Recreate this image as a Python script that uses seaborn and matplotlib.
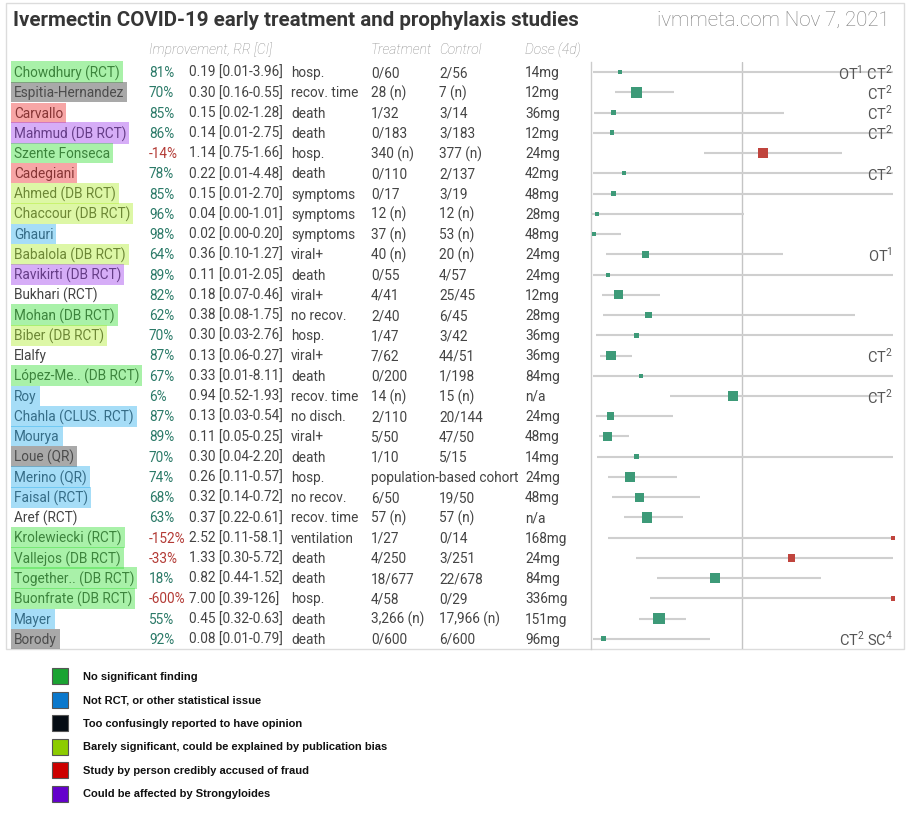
import numpy as np
import pandas as pd
import matplotlib
matplotlib.use('Agg')
import matplotlib.pyplot as plt
import matplotlib.transforms as mtransforms
from matplotlib.patches import Rectangle
import seaborn as sns

# dados
estudos = ['Chowdhury (RCT)', 'Espitia-Hernandez', 'Carvallo', 'Mahmud (DB RCT)', 'Szente Fonseca',
           'Cadegiani', 'Ahmed (DB RCT)', 'Chaccour (DB RCT)', 'Ghauri', 'Babalola (DB RCT)',
           'Ravikirti (DB RCT)', 'Bukhari (RCT)', 'Mohan (DB RCT)', 'Biber (DB RCT)', 'Elalfy',
           'López-Me.. (DB RCT)', 'Roy', 'Chahla (CLUS. RCT)', 'Mourya', 'Loue (QR)',
           'Merino (QR)', 'Faisal (RCT)', 'Aref (RCT)', 'Krolewiecki (RCT)', 'Vallejos (DB RCT)',
           'Together.. (DB RCT)', 'Buonfrate (DB RCT)', 'Mayer', 'Borody']
rr = [0.19, 0.30, 0.15, 0.14, 1.14, 0.22, 0.15, 0.04, 0.02, 0.36, 0.11, 0.18, 0.38, 0.30, 0.13,
      0.33, 0.94, 0.13, 0.11, 0.30, 0.26, 0.32, 0.37, 2.52, 1.33, 0.82, 7.00, 0.45, 0.08]
ci_low = [0.01, 0.16, 0.02, 0.01, 0.75, 0.01, 0.01, 0.00, 0.00, 0.10, 0.01, 0.07, 0.08, 0.03, 0.06,
          0.01, 0.52, 0.03, 0.05, 0.04, 0.11, 0.14, 0.22, 0.11, 0.30, 0.44, 0.39, 0.32, 0.01]
ci_high = [3.96, 0.55, 1.28, 2.75, 1.66, 4.48, 2.70, 1.01, 0.20, 1.27, 2.05, 0.46, 1.75, 2.76, 0.27,
           8.11, 1.93, 0.54, 0.25, 2.20, 0.57, 0.72, 0.61, 58.1, 5.72, 1.52, 126, 0.63, 0.79]
desfecho = ['hosp.', 'recov. time', 'death', 'death', 'hosp.', 'death', 'symptoms', 'symptoms',
            'symptoms', 'viral+', 'death', 'viral+', 'no recov.', 'hosp.', 'viral+', 'death',
            'recov. time', 'no disch.', 'viral+', 'death', 'hosp.', 'no recov.', 'recov. time',
            'ventilation', 'death', 'death', 'hosp.', 'death', 'death']
tratamento = ['0/60', '28 (n)', '1/32', '0/183', '340 (n)', '0/110', '0/17', '12 (n)', '37 (n)',
              '40 (n)', '0/55', '4/41', '2/40', '1/47', '7/62', '0/200', '14 (n)', '2/110', '5/50',
              '1/10', 'population-based cohort', '6/50', '57 (n)', '1/27', '4/250', '18/677', '4/58',
              '3,266 (n)', '0/600']
controle = ['2/56', '7 (n)', '3/14', '3/183', '377 (n)', '2/137', '3/19', '12 (n)', '53 (n)',
            '20 (n)', '4/57', '25/45', '6/45', '3/42', '44/51', '1/198', '15 (n)', '20/144', '47/50',
            '5/15', '', '19/50', '57 (n)', '0/14', '3/251', '22/678', '0/29', '17,966 (n)', '6/600']
dose = ['14mg', '12mg', '36mg', '12mg', '24mg', '42mg', '48mg', '28mg', '48mg', '24mg', '24mg',
        '12mg', '28mg', '36mg', '36mg', '84mg', 'n/a', '24mg', '48mg', '14mg', '24mg', '48mg',
        'n/a', '168mg', '24mg', '84mg', '336mg', '151mg', '96mg']
notas = ['OT$^1$ CT$^2$', 'CT$^2$', 'CT$^2$', 'CT$^2$', '', 'CT$^2$', '', '', '', 'OT$^1$', '', '',
         '', '', 'CT$^2$', '', 'CT$^2$', '', '', '', '', '', '', '', '', '', '', '', 'CT$^2$ SC$^4$']
# categoria do destaque (legenda): g=verde, b=azul, k=preto/cinza, y=amarelo, r=vermelho, p=roxo
categoria = ['g', 'k', 'r', 'p', 'g', 'r', 'y', 'y', 'b', 'y', 'p', '', 'g', 'y', '', 'g', 'b', 'b',
             'b', 'k', 'b', 'b', '', 'g', 'g', 'g', 'g', 'b', 'k']
peso = [1.6, 11.4, 2.8, 2.2, 11.4, 1.8, 2.2, 1.6, 1.8, 5.3, 1.6, 7.6, 4.5, 2.8, 10.0, 1.8, 10.6,
        5.9, 8.6, 2.8, 9.4, 8.6, 11.4, 1.8, 5.3, 10.0, 1.8, 12.8, 2.5]

legenda_texto = ['No significant finding', 'Not RCT, or other statistical issue',
                 'Too confusingly reported to have opinion',
                 'Barely significant, could be explained by publication bias',
                 'Study by person credibly accused of fraud', 'Could be affected by Strongyloides']
legenda_cor = ['#1aa332', '#0a78cc', '#050c14', '#8ccc00', '#cc0000', '#6400cc']

destaque = {'g': (0.2, 0.87, 0.2, 0.42), 'k': (0.33, 0.33, 0.33, 0.5), 'r': (0.93, 0.13, 0.13, 0.4),
            'p': (0.6, 0.2, 0.93, 0.4), 'y': (0.67, 0.93, 0.13, 0.4), 'b': (0.13, 0.67, 0.93, 0.4)}


def fmt(v):
    if v < 10:
        return f'{v:.2f}'
    if v < 100:
        return f'{v:.1f}'
    return f'{v:.0f}'


df = pd.DataFrame({'estudo': estudos, 'rr': rr, 'lo': ci_low, 'hi': ci_high, 'peso': peso})
df['linha'] = np.arange(len(df))
df['rr_plot'] = df['rr'].clip(upper=2.0)
df['sentido'] = np.where(df['rr'] > 1, 'pior', 'melhor')
df['pct'] = np.round((1 - df['rr']) * 100).astype(int)

sns.set_theme(style='white')
plt.rcParams['font.family'] = ['Roboto', 'DejaVu Sans']
plt.rcParams['mathtext.fontset'] = 'custom'
plt.rcParams['mathtext.rm'] = 'Roboto'

fig = plt.figure(figsize=(9.12, 8.2), dpi=100)
ax_bg = fig.add_axes([0, 0, 1, 1])
ax_bg.set_xlim(0, 912)
ax_bg.set_ylim(820, 0)
ax_bg.axis('off')

# moldura
ax_bg.add_patch(Rectangle((6, 4), 898, 646, fill=False, ec='#dcdcdc', lw=1))

ax_f = fig.add_axes([591 / 912, (820 - 650) / 820, 302 / 912, (650 - 63) / 820])
ax_f.set_xlim(0, 2.0)
ax_f.set_ylim(len(df) - 0.5, -0.5)
ax_f.patch.set_alpha(0)
for s in ['top', 'right', 'bottom']:
    ax_f.spines[s].set_visible(False)
ax_f.spines['left'].set_color('#cccccc')
ax_f.spines['left'].set_linewidth(1)
ax_f.set_xticks([])
ax_f.set_yticks([])
ax_f.axvline(1, color='#c4c4c4', lw=1, zorder=0)
ax_f.hlines(df['linha'], df['lo'], df['hi'], color='#cfcfcf', lw=1.5, zorder=1)
sns.scatterplot(data=df, x='rr_plot', y='linha', hue='sentido',
                palette={'melhor': '#3d9a78', 'pior': '#c0443d'},
                size='peso', sizes=(8.3, 66.3), size_norm=(1.6, 12.8),
                marker='s', linewidth=0, legend=False, ax=ax_f, clip_on=False, zorder=3)
ax_f.set_xlabel('')
ax_f.set_ylabel('')

for i, n in enumerate(notas):
    if n:
        ax_f.text(2.0, i, n, ha='right', va='center', fontsize=10.5, color='#555555', zorder=4)

# tabela
trans = mtransforms.blended_transform_factory(ax_bg.transData, ax_f.transData)
cor_txt = '#444444'
kw = dict(transform=trans, va='center', fontsize=9.8)
for i, row in df.iterrows():
    ax_bg.text(14, i, row['estudo'], color=cor_txt, zorder=2, **kw)
    if categoria[i]:
        ax_bg.text(14, i, row['estudo'], color='none', zorder=3,
                   bbox=dict(boxstyle='square,pad=0.22', fc=destaque[categoria[i]], ec='none'), **kw)
    cor_pct = '#2b7a68' if row['pct'] >= 0 else '#b33a35'
    ax_bg.text(149, i, f"{row['pct']}%", color=cor_pct, **kw)
    ax_bg.text(189, i, f"{fmt(row['rr'])} [{fmt(row['lo'])}-{fmt(row['hi'])}]", color=cor_txt, **kw)
    ax_bg.text(291, i, desfecho[i], color=cor_txt, **kw)
    ax_bg.text(371, i, tratamento[i], color=cor_txt, **kw)
    ax_bg.text(439, i, controle[i], color=cor_txt, **kw)
    ax_bg.text(525, i, dose[i], color=cor_txt, **kw)

# cabeçalho
for x, t in [(149, 'Improvement, RR [CI]'), (371, 'Treatment'), (439, 'Control'), (525, 'Dose (4d)')]:
    ax_bg.text(x, 50, t, va='center', fontsize=10, color='#8a8a8a', style='italic',
               fontweight='light')

ax_bg.text(13, 20, 'Ivermectin COVID-19 early treatment and prophylaxis studies', va='center',
           fontsize=14.8, fontweight='bold', color='#363636')
ax_bg.text(890, 20, 'ivmmeta.com Nov 7, 2021', va='center', ha='right', fontsize=14.8,
           fontweight='light', color='#7a7a7a')

# legenda
for k, (t, c) in enumerate(zip(legenda_texto, legenda_cor)):
    y = 677 + k * 23.5
    ax_bg.add_patch(Rectangle((52, y - 8), 16, 16, fc=c, ec='#555555', lw=0.8))
    ax_bg.text(83, y, t, va='center', fontsize=8, fontweight='bold', color='#111111',
               family=['Liberation Sans', 'DejaVu Sans'])

fig.savefig('out.png', dpi=100)
